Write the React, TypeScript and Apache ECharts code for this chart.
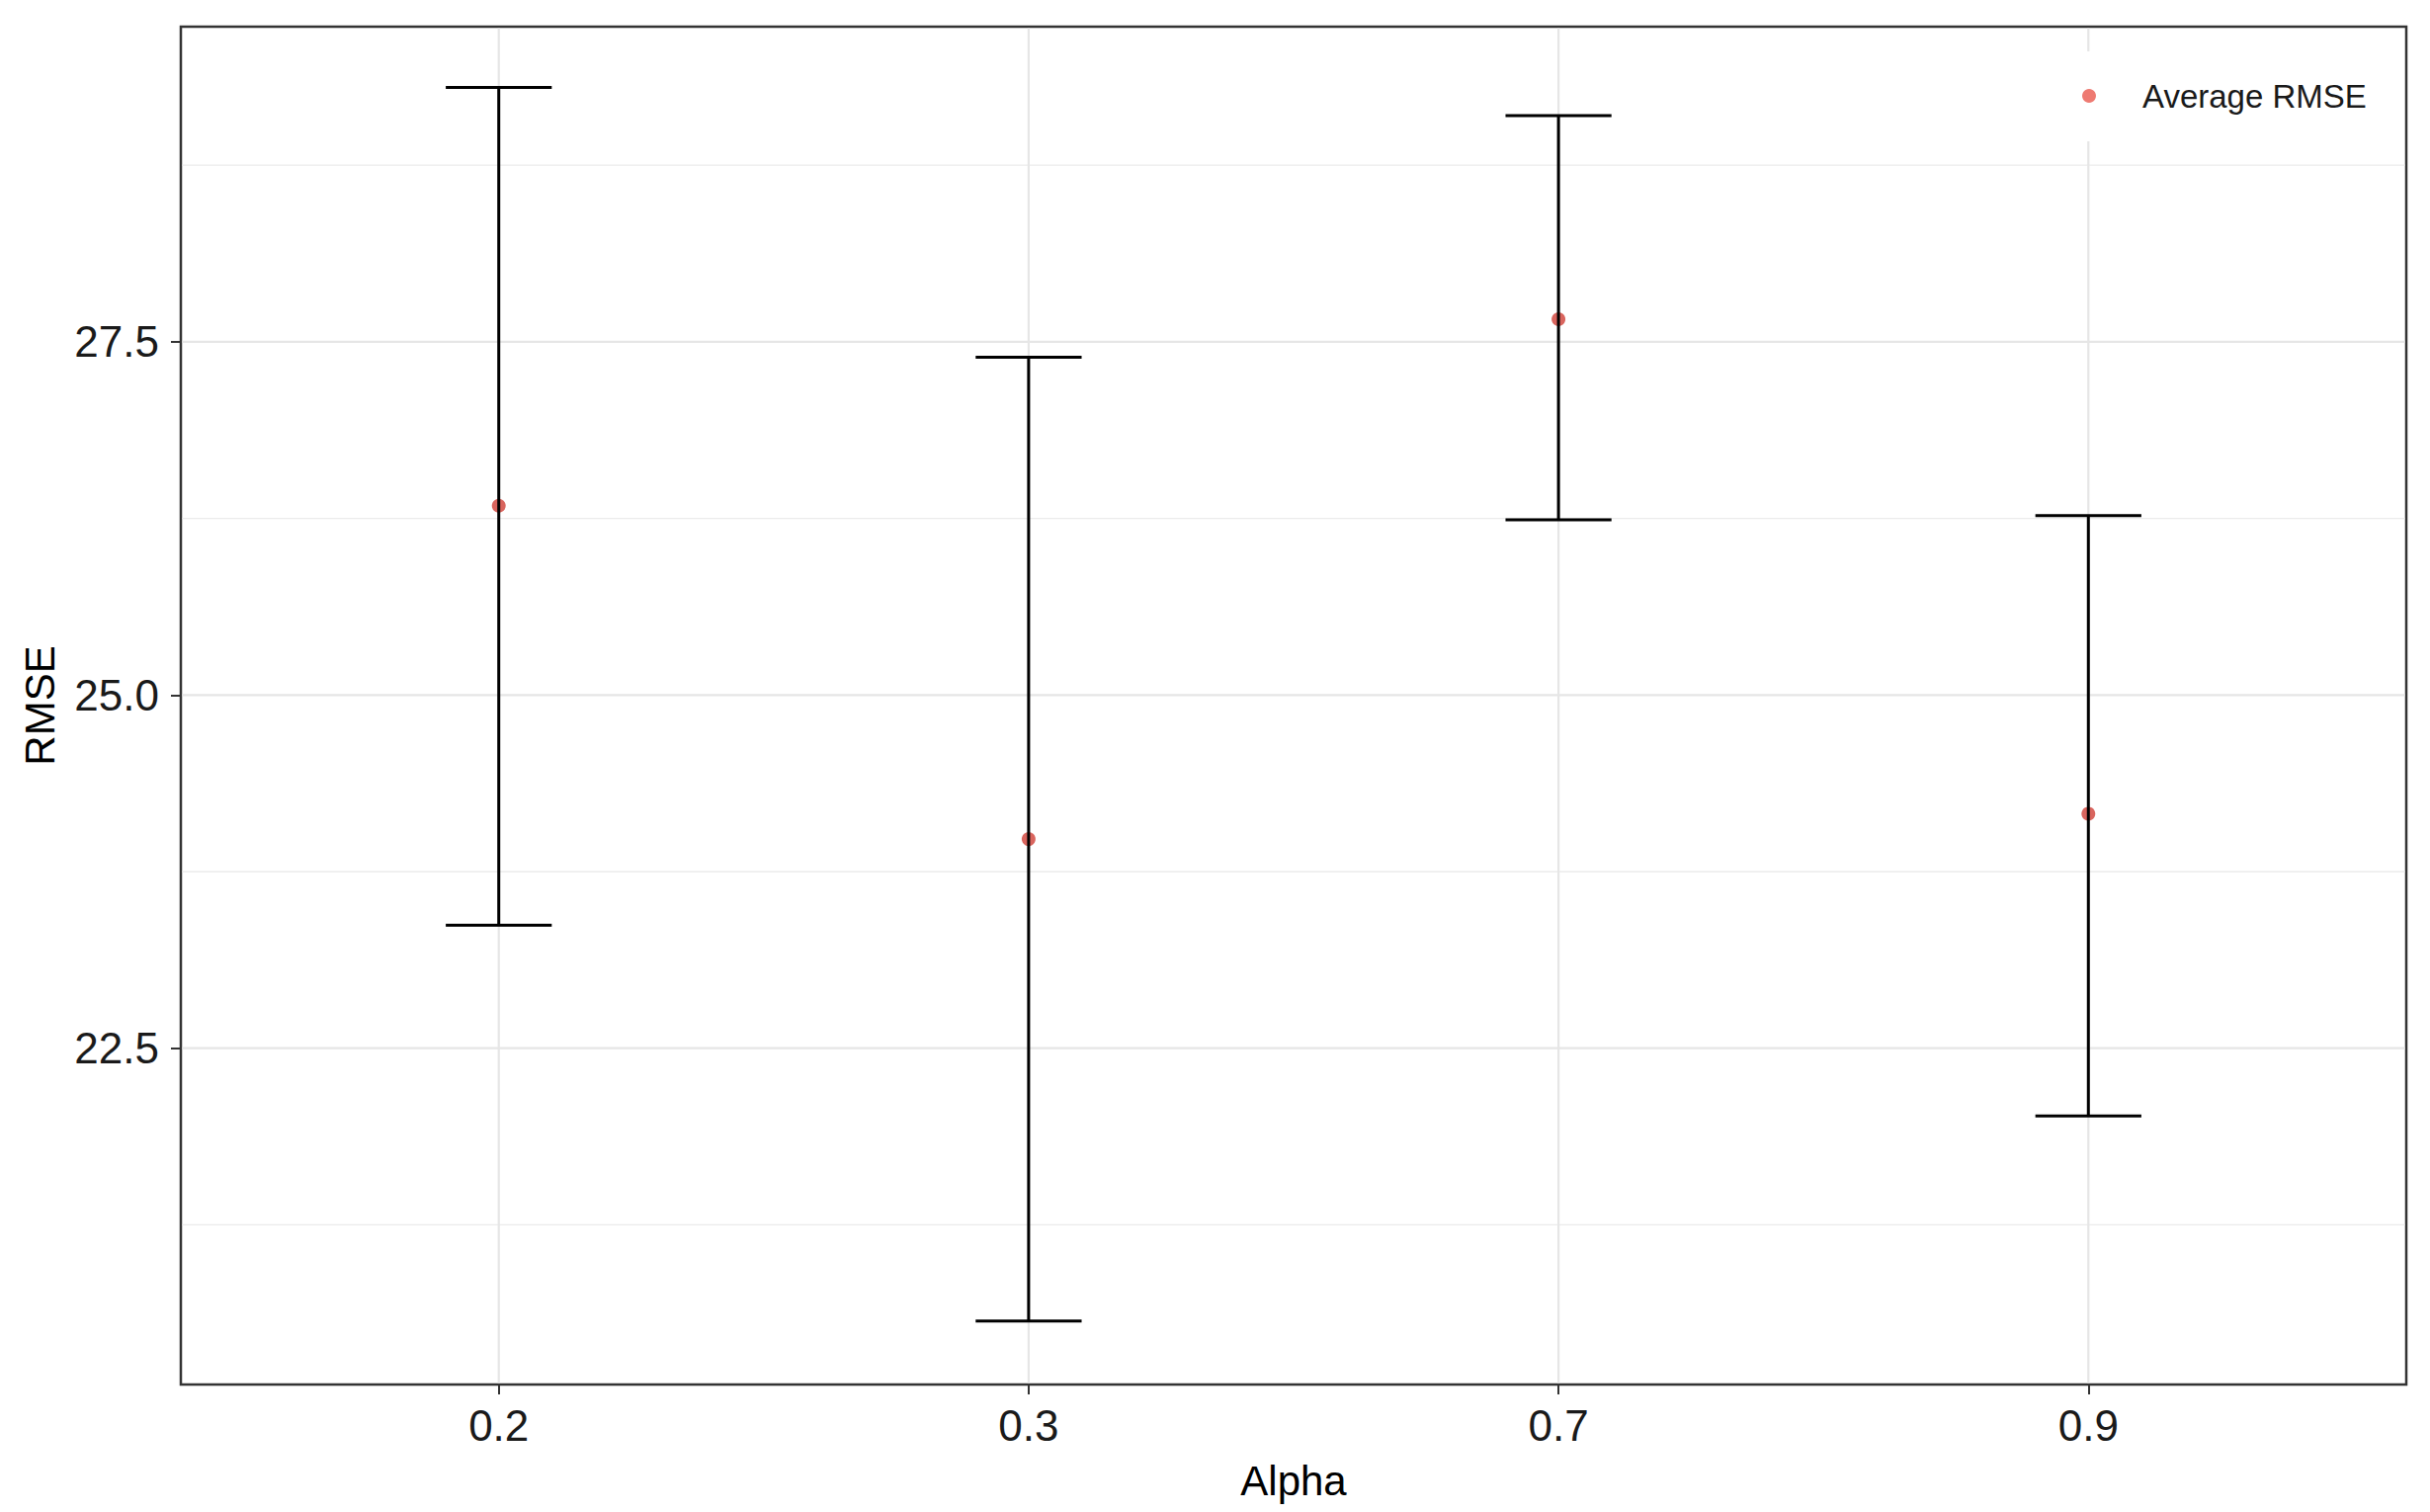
import React, { useEffect, useRef } from 'react';
import * as echarts from 'echarts';

// ---- data ----
const categories = ['0.2', '0.3', '0.7', '0.9'];
const meanRmse = [26.34, 23.98, 27.66, 24.16];
const lowerRmse = [23.37, 20.57, 26.24, 22.02];
const upperRmse = [29.3, 27.39, 29.1, 26.27];
const yMajorTicks = [22.5, 25.0, 27.5];
const yMinorTicks = [21.25, 23.75, 26.25, 28.75];
const yMin = 20.12;
const yMax = 29.73;
const xMin = -0.6;
const xMax = 3.6;
const seriesName = 'Average RMSE';

const FONT = "'Liberation Sans', Arial, sans-serif";

export default function App() {
  const ref = useRef<HTMLDivElement>(null);

  useEffect(() => {
    if (!ref.current) return;
    const chart = echarts.init(ref.current, null, { renderer: 'svg' });
    const catIdx = categories.map((_, i) => i);

    const hLine = (color: string, width: number) => (params: any, api: any) => {
      const cs = params.coordSys;
      const y = api.coord([0, api.value(1)])[1];
      return {
        type: 'line',
        shape: { x1: cs.x + 1.5, y1: y, x2: cs.x + cs.width - 1.5, y2: y },
        style: { stroke: color, lineWidth: width },
        silent: true,
      };
    };

    const option: any = {
      animation: false,
      backgroundColor: '#ffffff',
      textStyle: { fontFamily: FONT },
      grid: {
        left: 183,
        right: 24,
        top: 27,
        bottom: 129,
        show: true,
        borderColor: '#333333',
        borderWidth: 2.5,
        backgroundColor: '#ffffff',
      },
      legend: {
        show: true,
        data: [{ name: seriesName, icon: 'circle', itemStyle: { color: '#EE7A72', opacity: 1 } }],
        left: 2087,
        top: 52,
        orient: 'horizontal',
        itemWidth: 14,
        itemHeight: 14,
        backgroundColor: '#ffffff',
        padding: [25, 20, 26, 20],
        textStyle: {
          fontFamily: FONT,
          fontSize: 33,
          color: '#1a1a1a',
          lineHeight: 40,
          padding: [0, 0, 0, 42],
        },
      },
      xAxis: {
        type: 'value',
        min: xMin,
        max: xMax,
        name: 'Alpha',
        nameLocation: 'middle',
        nameGap: 76,
        nameTextStyle: { fontFamily: FONT, fontSize: 42, color: '#000000' },
        axisLine: { show: false, onZero: false },
        axisTick: {
          show: true,
          customValues: catIdx,
          length: 10,
          lineStyle: { color: '#333333', width: 2 },
        },
        axisLabel: {
          show: true,
          customValues: catIdx,
          formatter: (v: number) => categories[Math.round(v)] ?? '',
          fontFamily: FONT,
          fontSize: 44,
          color: '#1a1a1a',
          margin: 19,
        },
        splitLine: { show: false },
      },
      yAxis: {
        type: 'value',
        min: yMin,
        max: yMax,
        name: 'RMSE',
        nameLocation: 'middle',
        nameGap: 122,
        nameTextStyle: { fontFamily: FONT, fontSize: 42, color: '#000000' },
        axisLine: { show: false, onZero: false },
        axisTick: {
          show: true,
          customValues: yMajorTicks,
          length: 10,
          lineStyle: { color: '#333333', width: 2 },
        },
        axisLabel: {
          show: true,
          customValues: yMajorTicks,
          formatter: (v: number) => Number(v).toFixed(1),
          fontFamily: FONT,
          fontSize: 44,
          color: '#1a1a1a',
          margin: 22,
        },
        splitLine: { show: false },
      },
      series: [
        {
          type: 'custom',
          name: 'minorGrid',
          z: 1,
          silent: true,
          renderItem: hLine('#ebebeb', 1.3),
          data: yMinorTicks.map((v) => [0, v]),
          encode: { x: 0, y: 1 },
        },
        {
          type: 'custom',
          name: 'majorGrid',
          z: 1,
          silent: true,
          renderItem: hLine('#e6e6e6', 2.2),
          data: yMajorTicks.map((v) => [0, v]),
          encode: { x: 0, y: 1 },
        },
        {
          type: 'custom',
          name: 'vGrid',
          z: 1,
          silent: true,
          renderItem: (params: any, api: any) => {
            const cs = params.coordSys;
            const x = api.coord([api.value(0), yMin])[0];
            return {
              type: 'line',
              shape: { x1: x, y1: cs.y + 1.5, x2: x, y2: cs.y + cs.height - 1.5 },
              style: { stroke: '#e6e6e6', lineWidth: 2.2 },
              silent: true,
            };
          },
          data: catIdx.map((i) => [i, yMin]),
          encode: { x: 0, y: 1 },
        },
        {
          type: 'scatter',
          name: seriesName,
          z: 2,
          symbol: 'circle',
          symbolSize: 14,
          itemStyle: { color: '#D9655E', opacity: 1 },
          data: catIdx.map((i) => [i, meanRmse[i]]),
        },
        {
          type: 'custom',
          name: 'errorbars',
          z: 3,
          silent: true,
          renderItem: (params: any, api: any) => {
            const xi = api.value(0);
            const lo = api.coord([xi, api.value(1)]);
            const hi = api.coord([xi, api.value(2)]);
            const half = api.size([0.1, 0])[0];
            const st = { stroke: '#000000', lineWidth: 3 };
            return {
              type: 'group',
              children: [
                { type: 'line', shape: { x1: lo[0], y1: lo[1], x2: hi[0], y2: hi[1] }, style: st },
                { type: 'line', shape: { x1: hi[0] - half, y1: hi[1], x2: hi[0] + half, y2: hi[1] }, style: st },
                { type: 'line', shape: { x1: lo[0] - half, y1: lo[1], x2: lo[0] + half, y2: lo[1] }, style: st },
              ],
            };
          },
          data: catIdx.map((i) => [i, lowerRmse[i], upperRmse[i]]),
          encode: { x: 0, y: [1, 2] },
        },
      ],
    };

    chart.setOption(option);
    return () => chart.dispose();
  }, []);

  return (
    <div
      ref={ref}
      style={{ position: 'fixed', left: 0, top: 0, width: 2459, height: 1530, background: '#ffffff' }}
    />
  );
}
